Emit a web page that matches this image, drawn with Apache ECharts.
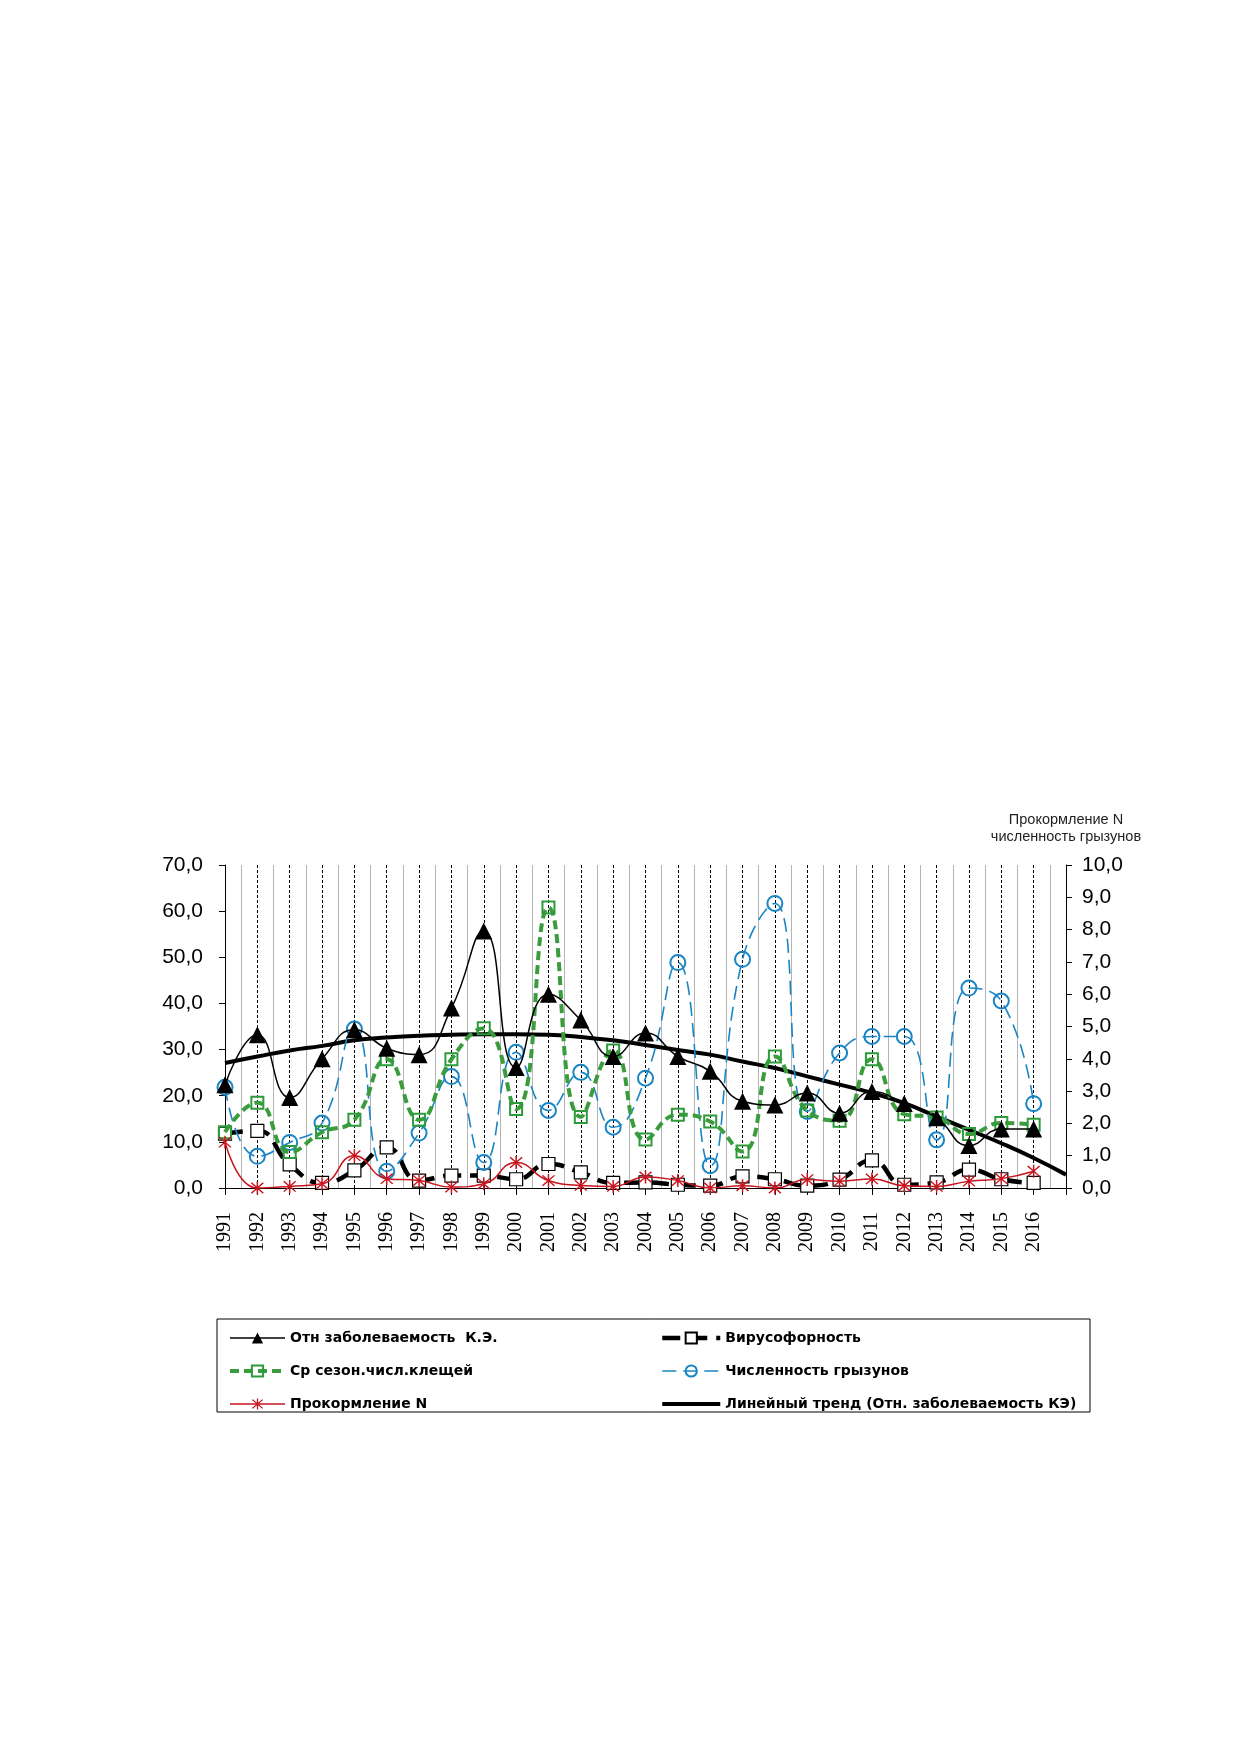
<!DOCTYPE html>
<html>
<head>
<meta charset="utf-8">
<script src="https://cdn.jsdelivr.net/npm/echarts@6/dist/echarts.min.js"></script>
<style>
  html, body { margin: 0; padding: 0; background: #fff; }
  #chart { width: 1239px; height: 1754px; }
</style>
</head>
<body>
<div id="chart"></div>
<script>
// years on the x axis (2017 only carries the end of the trend line)
const years = [1991, 1992, 1993, 1994, 1995, 1996, 1997, 1998, 1999, 2000, 2001, 2002, 2003,
    2004, 2005, 2006, 2007, 2008, 2009, 2010, 2011, 2012, 2013, 2014, 2015, 2016, 2017];

// left axis series
const morbidity = [22.4, 33.2, 19.6, 28.0, 34.3, 30.3, 28.9, 39.0, 55.7, 26.1, 42.0, 36.4, 28.5,
    33.6, 28.5, 25.3, 18.8, 18.0, 20.6, 16.2, 20.9, 18.3, 15.2, 9.2, 12.8, 12.8];
const ticks = [12.1, 18.5, 7.8, 12.1, 14.8, 27.9, 14.8, 27.9, 34.6, 17.1, 60.8, 15.4, 29.8,
    10.5, 15.9, 14.4, 7.9, 28.5, 16.8, 14.6, 27.9, 16.0, 15.3, 11.7, 14.1, 13.7];
const virus = [11.8, 12.4, 5.1, 1.1, 3.8, 8.8, 1.6, 2.7, 2.7, 1.9, 5.2, 3.4, 1.1,
    1.2, 0.7, 0.5, 2.5, 1.9, 0.5, 1.8, 6.0, 0.7, 1.2, 4.0, 1.9, 1.1];
const trend = [27.1, 28.5, 29.8, 30.8, 32.0, 32.6, 33.0, 33.2, 33.3, 33.3, 33.2, 32.7, 32.0,
    31.0, 29.9, 28.9, 27.4, 26.0, 24.2, 22.4, 20.6, 18.4, 15.5, 12.6, 9.7, 6.5, 2.9];

// right axis series
const rodents = [3.12, 0.98, 1.41, 2.01, 4.92, 0.52, 1.70, 3.45, 0.79, 4.20, 2.40, 3.58, 1.88,
    3.40, 6.98, 0.69, 7.08, 8.81, 2.37, 4.18, 4.69, 4.69, 1.49, 6.19, 5.79, 2.61];
const feeding = [1.42, 0.0, 0.05, 0.13, 1.0, 0.29, 0.23, 0.03, 0.13, 0.79, 0.23, 0.08, 0.05,
    0.34, 0.23, 0.0, 0.07, 0.0, 0.26, 0.21, 0.28, 0.07, 0.05, 0.21, 0.29, 0.52];

const names = {
    morbidity: 'Отн заболеваемость  К.Э.',
    ticks: 'Ср сезон.числ.клещей',
    feeding: 'Прокормление N',
    virus: 'Вирусофорность',
    rodents: 'Численность грызунов',
    trend: 'Линейный тренд (Отн. заболеваемость КЭ)'
};

const pairs = (vals) => vals.map((v, i) => [years[i], v]);
const fmt = (v) => v.toFixed(1).replace('.', ',');

const starPath = 'path://M9 0L11 0L11 20L9 20Z M1.3 2.7L2.7 1.3L18.7 17.3L17.3 18.7Z M17.3 1.3L18.7 2.7L2.7 18.7L1.3 17.3Z';

const legendText = {
    fontFamily: 'DejaVu Sans',
    fontSize: 14,
    fontWeight: 'bold',
    color: '#000'
};

const chart = echarts.init(document.getElementById('chart'));

const options = {
    backgroundColor: '#fff',
    animation: false,
    textStyle: {fontFamily: 'Liberation Sans'},
    grid: {left: 225, right: 173, top: 865, bottom: 566},
    legend: [
        {
            orient: 'vertical',
            left: 223,
            top: 1326,
            itemWidth: 55,
            itemHeight: 14,
            itemGap: 19,
            textStyle: legendText,
            data: [
                {name: names.morbidity, lineStyle: {width: 1.5}},
                {name: names.ticks, lineStyle: {width: 4}},
                {name: names.feeding, lineStyle: {width: 1.5}}
            ]
        },
        {
            orient: 'vertical',
            left: 655,
            top: 1326,
            itemWidth: 58,
            itemHeight: 14,
            itemGap: 19,
            textStyle: legendText,
            data: [
                {name: names.virus, lineStyle: {width: 4.5}},
                {name: names.rodents, lineStyle: {width: 1.6}},
                {
                    name: names.trend,
                    lineStyle: {width: 4},
                    itemStyle: {color: 'rgba(0,0,0,0)', borderColor: 'rgba(0,0,0,0)', borderWidth: 0}
                }
            ]
        }
    ],
    graphic: [
        {
            type: 'rect',
            shape: {x: 217, y: 1319, width: 873, height: 93},
            style: {fill: 'none', stroke: '#000', lineWidth: 1}
        },
        {
            type: 'text',
            x: 1066,
            y: 811,
            style: {
                text: 'Прокормление N\nчисленность грызунов',
                align: 'center',
                fontFamily: 'Liberation Sans',
                fontSize: 14.5,
                lineHeight: 17,
                fill: '#222'
            }
        }
    ],
    xAxis: [
        {
            type: 'value',
            min: 1991,
            max: 2017,
            interval: 1,
            axisLine: {lineStyle: {color: '#000', width: 1}},
            axisTick: {show: true, length: 7, lineStyle: {color: '#000'}},
            axisLabel: {
                rotate: 90,
                margin: 24,
                fontFamily: 'Liberation Serif',
                fontSize: 20,
                color: '#000',
                formatter: (v) => (v >= 1991 && v <= 2016 ? String(v) : '')
            },
            splitLine: {show: true, lineStyle: {color: '#000', type: [3, 2], width: 1}},
            minorTick: {show: false, splitNumber: 2},
            minorSplitLine: {show: true, lineStyle: {color: '#b4b4b4', width: 1}}
        },
        {
            type: 'value',
            position: 'top',
            min: 1991,
            max: 2017,
            interval: 1,
            axisLine: {show: true, lineStyle: {color: '#000', type: 'dotted', width: 1}},
            axisTick: {show: false},
            axisLabel: {show: false},
            splitLine: {show: false}
        }
    ],
    yAxis: [
        {
            type: 'value',
            min: 0,
            max: 70,
            interval: 10,
            axisLine: {show: true, lineStyle: {color: '#000', width: 1}},
            axisTick: {show: true, length: 6, lineStyle: {color: '#000'}},
            axisLabel: {fontSize: 21, color: '#000', margin: 22, formatter: fmt},
            splitLine: {show: false}
        },
        {
            type: 'value',
            min: 0,
            max: 10,
            interval: 1,
            position: 'right',
            axisLine: {show: true, lineStyle: {color: '#000', width: 1}},
            axisTick: {show: true, length: 6, lineStyle: {color: '#000'}},
            axisLabel: {fontSize: 21, color: '#000', margin: 16, formatter: fmt},
            splitLine: {show: false}
        }
    ],
    series: [
        {
            name: names.trend,
            type: 'line',
            yAxisIndex: 0,
            data: pairs(trend),
            smooth: 0.5,
            showSymbol: false,
            symbol: 'none',
            lineStyle: {color: '#000', width: 4},
            itemStyle: {color: '#000'},
            z: 3
        },
        {
            name: names.virus,
            type: 'line',
            yAxisIndex: 0,
            data: pairs(virus),
            smooth: 0.5,
            symbol: 'rect',
            symbolSize: 13,
            lineStyle: {color: '#000', width: 4.5, type: [18, 9]},
            itemStyle: {color: '#fff', borderColor: '#000', borderWidth: 1.2},
            z: 4
        },
        {
            name: names.rodents,
            type: 'line',
            yAxisIndex: 1,
            data: pairs(rodents),
            smooth: 0.5,
            symbol: 'circle',
            symbolSize: 15,
            lineStyle: {color: '#1a85c4', width: 1.6, type: [14, 7]},
            itemStyle: {color: 'rgba(255,255,255,0)', borderColor: '#1a85c4', borderWidth: 2},
            z: 5
        },
        {
            name: names.ticks,
            type: 'line',
            yAxisIndex: 0,
            data: pairs(ticks),
            smooth: 0.5,
            symbol: 'rect',
            symbolSize: 12,
            lineStyle: {color: '#3a9c3c', width: 4, type: [9, 5]},
            itemStyle: {color: 'rgba(255,255,255,0)', borderColor: '#2c9c3a', borderWidth: 2},
            z: 6
        },
        {
            name: names.feeding,
            type: 'line',
            yAxisIndex: 1,
            data: pairs(feeding),
            smooth: 0.5,
            symbol: starPath,
            symbolSize: 13,
            lineStyle: {color: '#c8141e', width: 1.5},
            itemStyle: {color: '#c8141e'},
            z: 7
        },
        {
            name: names.morbidity,
            type: 'line',
            yAxisIndex: 0,
            data: pairs(morbidity),
            smooth: 0.5,
            symbol: 'triangle',
            symbolSize: 17,
            lineStyle: {color: '#000', width: 1.5},
            itemStyle: {color: '#000'},
            z: 8
        }
    ]
};

chart.setOption(options);
</script>
</body>
</html>
